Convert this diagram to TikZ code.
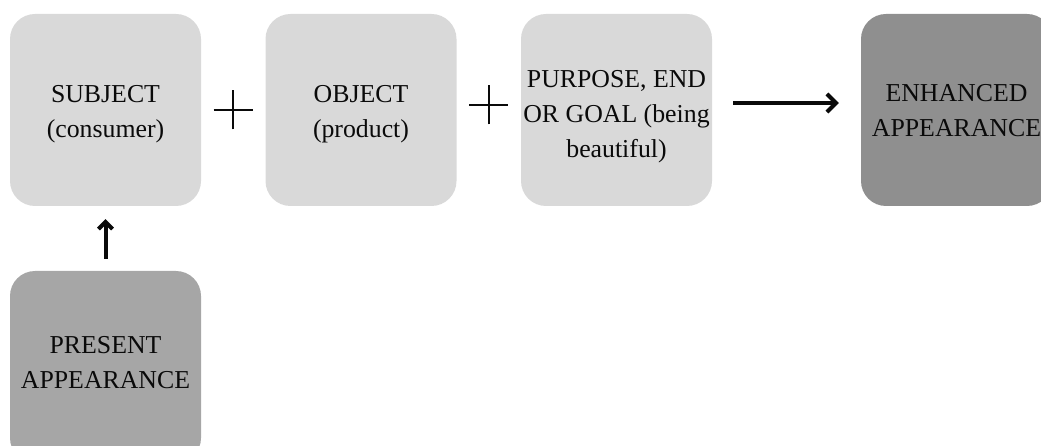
\documentclass[tikz,border=0pt]{standalone}
\usepackage{fontspec}
\setmainfont{Liberation Serif}
\usetikzlibrary{arrows.meta}
\definecolor{lightbox}{HTML}{D9D9D9}
\definecolor{midbox}{HTML}{A6A6A6}
\definecolor{darkbox}{HTML}{8F8F8F}
\definecolor{ink}{HTML}{0A0A0A}
\tikzset{
  box/.style={rounded corners=25pt, minimum width=191pt, minimum height=192pt, inner sep=0pt, draw=none},
  txt/.style={font=\fontsize{25.8}{35}\selectfont, text=ink, align=center, inner sep=0pt},
  plusline/.style={line width=2pt, draw=ink},
  conn/.style={line width=4pt, draw=ink, line join=round}
}
\begin{document}
\begin{tikzpicture}[x=1pt,y=-1pt]
\useasboundingbox (0,0) rectangle (1041,446);
\clip (0,0) rectangle (1041,446);
\node[box, fill=lightbox] (subject) at (105.5,110) {};
\node[box, fill=lightbox] (object) at (361,110) {};
\node[box, fill=lightbox] (purpose) at (616.5,110) {};
\node[box, fill=darkbox] (enhanced) at (956.5,110) {};
\node[box, fill=midbox] (present) at (105.5,367) {};
\node[txt] (subjectT) at (105.5,113.8) {SUBJECT\\(consumer)};
\node[txt] (objectT) at (361,113.8) {OBJECT\\(product)};
\node[txt] (purposeT) at (616.5,116.3) {PURPOSE, END\\OR GOAL (being\\beautiful)};
\node[txt] (enhancedT) at (956.5,111) {ENHANCED\\APPEARANCE};
\node[txt] (presentT) at (105.5,363) {PRESENT\\APPEARANCE};
\coordinate (plusA) at (233,110);
\coordinate (plusB) at (488.5,105);
\foreach \p in {plusA,plusB}{
  \draw[plusline] ([xshift=-19.5pt]\p) -- ([xshift=19.5pt]\p);
  \draw[plusline] ([yshift=-19.5pt]\p) -- ([yshift=19.5pt]\p);
}
\draw[conn, -{Straight Barb[length=7pt,width=14pt,line width=4pt]}, shorten <=12pt, shorten >=13pt] (present.north) -- (subject.south);
\draw[conn, -{Straight Barb[length=9pt,width=18pt,line width=4pt]}, shorten <=21pt, shorten >=22pt] ([yshift=7pt]purpose.east) -- ([yshift=7pt]enhanced.west);
\end{tikzpicture}
\end{document}
